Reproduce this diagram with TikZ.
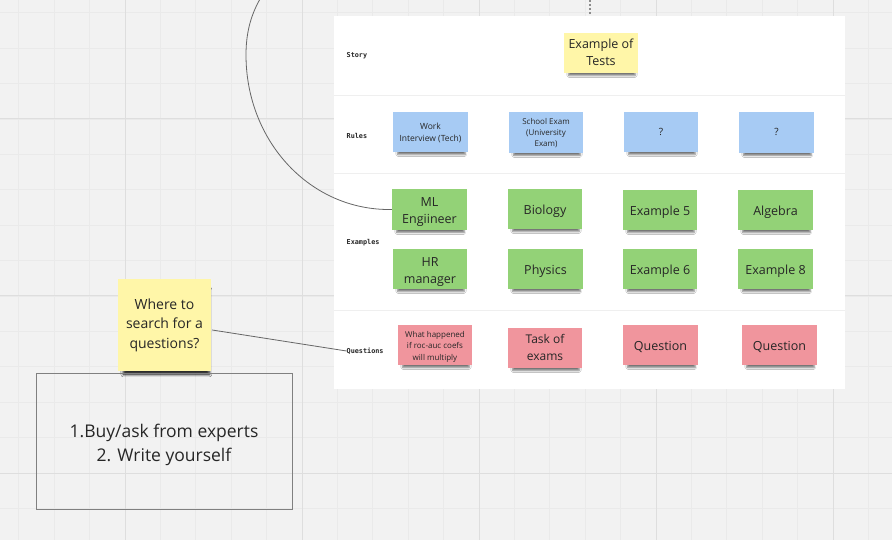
\documentclass[tikz,border=0pt]{standalone}
\usepackage{fontspec}
\setmainfont{Open Sans}
\newfontfamily\labmono{DejaVu Sans Mono}
\usetikzlibrary{shadows.blur}
\definecolor{bgc}{HTML}{F2F2F2}
\definecolor{gridminor}{HTML}{EAEAEA}
\definecolor{gridmajor}{HTML}{DEDEDE}
\definecolor{sepc}{HTML}{EFEFEF}
\definecolor{stYellow}{HTML}{FFF6A8}
\definecolor{stBlue}{HTML}{A7CBF4}
\definecolor{stGreen}{HTML}{93D277}
\definecolor{stPink}{HTML}{F0959D}
\definecolor{txt}{HTML}{262626}
\definecolor{connc}{HTML}{666666}
\newsavebox\lowbox
\newcommand\lowtext[2]{\sbox\lowbox{\begin{tabular}{@{}c@{}}#2\end{tabular}}\raisebox{-#1}[\ht\lowbox][\dp\lowbox]{\usebox\lowbox}}
\tikzset{
  sticky/.style={minimum width=75pt, minimum height=40pt, inner sep=1pt,
    text=txt,
    blur shadow={shadow xshift=1pt, shadow yshift=-5pt, shadow scale=0.9,
      shadow blur radius=2pt, shadow opacity=55}},
  ybig/.style={sticky, fill=stYellow},
  bluest/.style={sticky, fill=stBlue},
  greenst/.style={sticky, fill=stGreen, font=\fontsize{12.5}{17}\selectfont},
  pinkst/.style={sticky, fill=stPink},
  rowlab/.style={anchor=west, inner sep=0pt, font=\labmono\bfseries\fontsize{6.8}{8}\selectfont, text=black!85},
  conn/.style={draw=connc, line width=0.8pt},
  sepline/.style={draw=sepc, line width=1pt},
}
\begin{document}
\begin{tikzpicture}[x=1pt,y=-1pt]
\useasboundingbox (0,0) rectangle (892,540);
\clip (0,0) rectangle (892,540);
% background and grid
\fill[bgc] (0,0) rectangle (892,540);
\foreach \k in {0,...,25}{
  \draw[gridminor, line width=0.7pt] ({18.8+35.4*\k},0) -- ({18.8+35.4*\k},540);
  \draw[gridminor, line width=0.7pt] (0,{12.8+35.4*\k}) -- (892,{12.8+35.4*\k});
}
\foreach \k in {0,...,4}{
  \draw[gridmajor, line width=1pt] ({125+177*\k},0) -- ({125+177*\k},540);
}
\foreach \k in {0,...,2}{
  \draw[gridmajor, line width=1pt] (0,{119+177*\k}) -- (892,{119+177*\k});
}
% table panel
\node[fill=white, inner sep=0pt, minimum width=511pt, minimum height=373pt, anchor=north west] (panel) at (334,16) {};
\draw[sepline] (334,96) -- (845,96);
\draw[sepline] (334,174) -- (845,174);
\draw[sepline] (334,310) -- (845,310);
% dotted line at top
\coordinate (dtop) at (590,0);
\coordinate (dbot) at (590,15);
\draw[draw=black!45, line width=1.2pt, dash pattern=on 2pt off 2pt] (dtop) -- (dbot);
% row labels
\node[rowlab] (lstory) at (346.5,56) {Story};
\node[rowlab] (lrules) at (346.5,136) {Rules};
\node[rowlab] (lex) at (346.5,242.5) {Examples};
\node[rowlab] (lq) at (346.5,351) {Questions};
% story
\node[ybig, minimum width=74pt, font=\fontsize{12.5}{17}\selectfont] (tests) at (601,53) {\lowtext{1pt}{Example of\\Tests}};
% rules
\node[bluest, font=\fontsize{8.5}{11.7}\selectfont] (work) at (430.5,132) {\lowtext{1pt}{Work\\Interview (Tech)}};
\node[bluest, minimum width=74pt, minimum height=41pt, font=\fontsize{8}{11}\selectfont] (school) at (546,132.5) {\lowtext{1pt}{School Exam\\(University\\Exam)}};
\node[bluest, minimum width=74pt, font=\fontsize{10}{12}\selectfont] (qa) at (661,132) {\lowtext{1pt}{?}};
\node[bluest, minimum height=41pt, font=\fontsize{10}{12}\selectfont] (qb) at (776.5,132.5) {\lowtext{1pt}{?}};
% examples
\node[greenst, minimum height=41pt] (ml) at (429.5,209.5) {\lowtext{2.5pt}{ML\\Engiineer}};
\node[greenst, minimum width=74pt] (bio) at (545,209) {\lowtext{2pt}{Biology}};
\node[greenst, minimum width=74pt] (hr) at (430,269) {\lowtext{2.5pt}{HR\\manager}};
\node[greenst] (phys) at (545.5,269) {\lowtext{2pt}{Physics}};
\node[greenst, minimum width=74pt] (ex5) at (660,210) {\lowtext{2pt}{Example 5}};
\node[greenst] (alg) at (775.5,210) {\lowtext{2pt}{Algebra}};
\node[greenst, minimum width=74pt] (ex6) at (660,269) {\lowtext{2pt}{Example 6}};
\node[greenst] (ex8) at (775.5,269) {\lowtext{2pt}{Example 8}};
% questions
\node[pinkst, minimum width=74pt, font=\fontsize{8}{11.5}\selectfont] (what) at (435,345) {\lowtext{1.5pt}{What happened\\if roc-auc coefs\\will multiply}};
\node[pinkst, minimum width=74pt, font=\fontsize{12}{16.5}\selectfont] (task) at (545,348) {\lowtext{0.5pt}{Task of\\exams}};
\node[pinkst, font=\fontsize{12.5}{16}\selectfont] (qu1) at (660.5,345) {\lowtext{2pt}{Question}};
\node[pinkst, font=\fontsize{12.5}{16}\selectfont] (qu2) at (779.5,345) {\lowtext{2pt}{Question}};
% where sticky
\node[sticky, fill=stYellow, minimum width=93pt, minimum height=92pt,
  font=\fontsize{14}{19.3}\selectfont,
  blur shadow={shadow xshift=2pt, shadow yshift=-7.5pt, shadow scale=0.92, shadow blur radius=3pt, shadow opacity=60}] (where) at (164.5,325) {\lowtext{0pt}{Where to\\search for a\\questions?}};
% answer box
\node[draw=black!50, line width=1pt, minimum width=256pt, minimum height=136pt, inner sep=0pt,
  text=txt, font=\fontsize{17.5}{24}\selectfont] (answers) at (164,441) {\lowtext{4pt}{1.Buy/ask from experts\\2. Write yourself}};
% connectors
\coordinate (wstart) at ([shift={(1,5)}]where.east);
\draw[conn] (wstart) -- (lq.west);
\coordinate (arcleft) at (246,55);
\coordinate (arctop) at (267,-12);
\draw[conn] (ml.west) .. controls (310,211) and (246,141) .. (arcleft)
  .. controls (246,28) and (253,8) .. (arctop);
\end{tikzpicture}
\end{document}
